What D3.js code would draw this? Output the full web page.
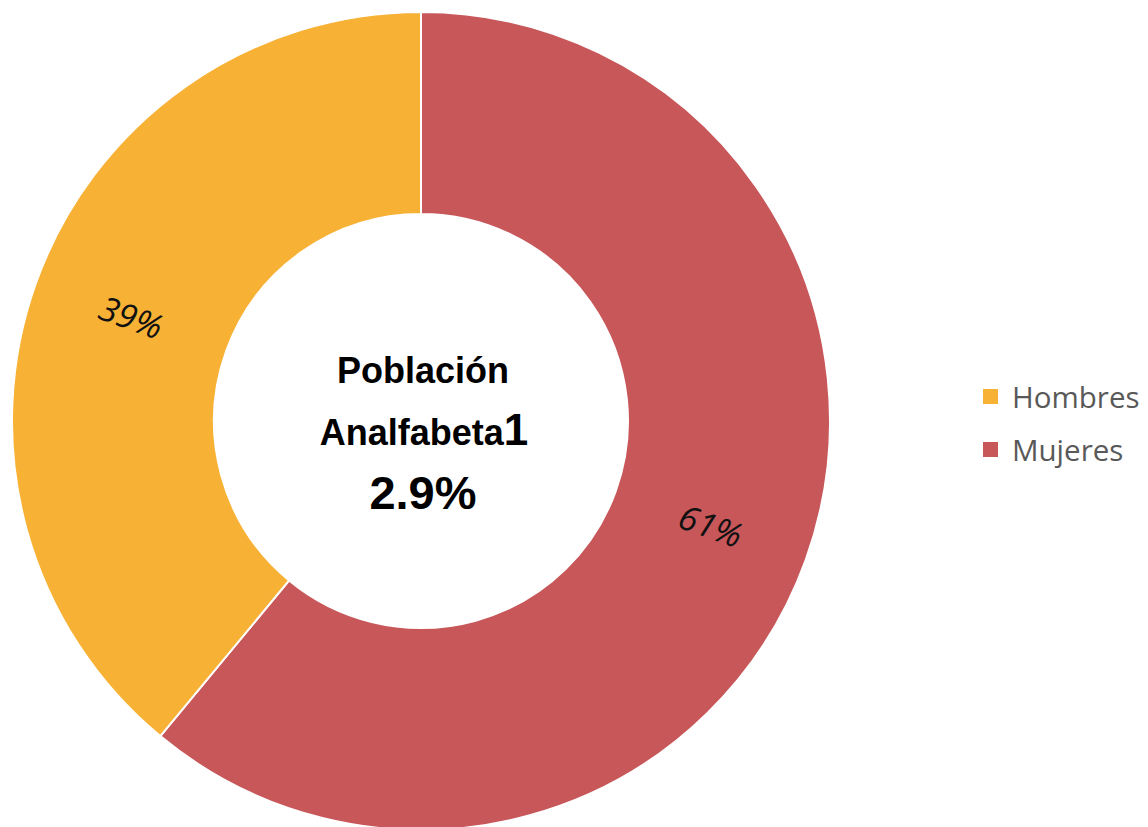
<!DOCTYPE html>
<html><head><meta charset="utf-8">
<script src="https://cdn.jsdelivr.net/npm/d3@7"></script>
<style>html,body{margin:0;padding:0;background:#fff;}</style>
</head><body>
<svg id="c" width="1148" height="827"></svg>
<script>
const categories = ["Mujeres", "Hombres"];
const values = [61, 39];
const labels = ["61%", "39%"];
const legendOrder = ["Hombres", "Mujeres"];
const colors = {Hombres: "#F7B135", Mujeres: "#C8575A"};
const centerLines = ["Población", "Analfabeta", "2.9%"];

const svg = d3.select("#c");
const cx = 421, cy = 421, outerR = 409, innerR = 207;
const g = svg.append("g").attr("transform", `translate(${cx},${cy})`);

const data = categories.map((c, i) => ({cat: c, v: values[i], label: labels[i]}));
const pie = d3.pie().value(d => d.v).sort(null);
const arc = d3.arc().innerRadius(innerR).outerRadius(outerR);
const arcs = pie(data);

g.selectAll("path").data(arcs).enter().append("path")
  .attr("d", arc)
  .attr("fill", d => colors[d.data.cat])
  .attr("stroke", "#fff").attr("stroke-width", 2);

g.selectAll("text.lbl").data(arcs).enter().append("text")
  .attr("class", "lbl")
  .attr("transform", d => {
    const [x, y] = arc.centroid(d);
    let a = (d.startAngle + d.endAngle) / 2 * 180 / Math.PI;
    let rot = a - 90;
    if (rot > 90) rot -= 180;
    return `translate(${x},${y}) rotate(${rot})`;
  })
  .attr("text-anchor", "middle").attr("dominant-baseline", "central")
  .attr("font-family", "Open Sans, sans-serif").attr("font-style", "italic")
  .attr("font-size", 34).attr("fill", "#111")
  .text(d => d.data.label);

// center text
const ct = svg.append("g").attr("font-family", "Liberation Sans, Arial, sans-serif").attr("font-weight", "bold").attr("fill", "#000").attr("text-anchor", "middle");
ct.append("text").attr("x", 423).attr("y", 383).attr("font-size", 36).text(centerLines[0]);
const t2 = ct.append("text").attr("x", 424).attr("y", 445).attr("font-size", 36);
t2.append("tspan").text(centerLines[1]);
t2.append("tspan").attr("font-size", 44).text("1");
ct.append("text").attr("x", 423).attr("y", 509).attr("font-size", 47).text(centerLines[2]);

// legend
const lg = svg.append("g").attr("transform", "translate(983,0)");
legendOrder.forEach((k, i) => {
  const y = 396 + i * 53;
  lg.append("rect").attr("x", 0).attr("y", y - 7).attr("width", 15).attr("height", 15).attr("fill", colors[k]);
  lg.append("text").attr("x", 29).attr("y", y).attr("dominant-baseline", "central")
    .attr("font-family", "Open Sans, sans-serif").attr("font-size", 29.5).attr("fill", "#595959").text(k);
});
</script>
</body></html>
